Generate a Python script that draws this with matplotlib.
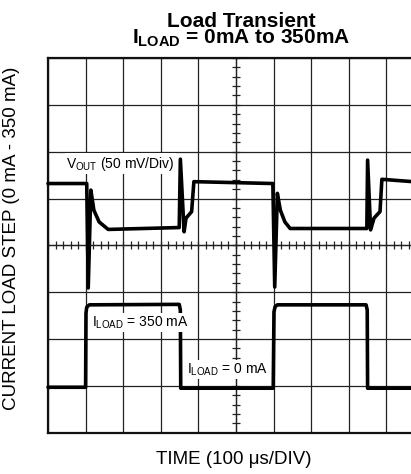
import matplotlib
matplotlib.use("Agg")
import matplotlib.pyplot as plt
import numpy as np

plt.rcParams['font.family'] = ['Liberation Sans', 'DejaVu Sans']
plt.rcParams['mathtext.fontset'] = 'custom'
plt.rcParams['mathtext.rm'] = 'Liberation Sans'
plt.rcParams['mathtext.bf'] = 'Liberation Sans:bold'
plt.rcParams['mathtext.it'] = 'Liberation Sans:italic'

# ---- data (in scope divisions: x 0..10, y 0..8) ----
vout_t = [0.0, 1.03, 1.07, 1.14, 1.22, 1.36, 1.60, 3.49, 3.52, 3.62, 3.67, 3.82, 3.88,
          5.98, 6.03, 6.10, 6.18, 6.30, 6.44, 8.48, 8.50, 8.58, 8.67, 8.83, 8.88, 9.70]
vout_v = [5.32, 5.32, 3.09, 5.18, 4.75, 4.50, 4.34, 4.38, 5.84, 4.29, 4.58, 4.72, 5.36,
          5.32, 3.11, 5.11, 4.75, 4.50, 4.36, 4.36, 5.82, 4.33, 4.58, 4.72, 5.41, 5.36]

iload_t = [0.0, 1.00, 1.01, 1.03, 1.10, 3.49, 3.52, 3.53, 5.99, 6.01, 6.04, 6.10,
           8.46, 8.49, 8.50, 9.70]
iload_v = [0.97, 0.97, 2.55, 2.68, 2.73, 2.74, 2.62, 0.95, 0.95, 2.58, 2.69, 2.73,
           2.73, 2.62, 0.95, 0.95]

title_1 = "Load Transient"
title_2 = r"I$_{\mathbf{LOAD}}$ = 0mA to 350mA"
xlabel = "TIME (100 μs/DIV)"
ylabel = "CURRENT LOAD STEP (0 mA - 350 mA)"
lbl_vout = r"V$_{\mathrm{OUT}}$ (50 mV/Div)"
lbl_i350 = r"I$_{\mathrm{LOAD}}$ = 350 mA"
lbl_i0 = r"I$_{\mathrm{LOAD}}$ = 0 mA"

W, H = 411, 474
fig = plt.figure(figsize=(W / 100, H / 100), dpi=100)
ax = fig.add_axes([48 / W, (H - 432.7) / H, 376 / W, 374.7 / H])
ax.set_xlim(0, 10)
ax.set_ylim(0, 8)

# graticule
ax.set_xticks(np.arange(0, 11))
ax.set_yticks(np.arange(0, 9))
ax.tick_params(length=0, labelbottom=False, labelleft=False)
ax.grid(True, color='#222222', linewidth=0.9)
ax.set_axisbelow(True)
for s in ax.spines.values():
    s.set_linewidth(1.6)
    s.set_color('#111111')

# center axes with minor ticks
ax.axhline(4, color='#222222', lw=0.9, zorder=1)
ax.axvline(5, color='#222222', lw=0.9, zorder=1)
mt = np.arange(0, 10.01, 0.2)
ax.plot(mt, np.full_like(mt, 4.0), ls='none', marker='|', ms=6, mew=0.9, color='#222222', zorder=1)
mt2 = np.arange(0, 8.01, 0.2)
ax.plot(np.full_like(mt2, 5.0), mt2, ls='none', marker='_', ms=6, mew=0.9, color='#222222', zorder=1)

# traces
ax.plot(vout_t, vout_v, color='black', lw=2.6, solid_joinstyle='round', solid_capstyle='round', zorder=3, clip_on=False)
ax.plot(iload_t, iload_v, color='black', lw=2.6, solid_joinstyle='round', solid_capstyle='round', zorder=3, clip_on=False)

bb = dict(facecolor='white', edgecolor='none', pad=1.0)
ax.text(0.48, 5.74, lbl_vout, fontsize=10, va='center', ha='left', bbox=bb, zorder=4)
ax.text(1.16, 2.35, lbl_i350, fontsize=10, va='center', ha='left', bbox=bb, zorder=4)
ax.text(3.69, 1.35, lbl_i0, fontsize=10, va='center', ha='left', bbox=bb, zorder=4)

# titles and labels
fig.text(241 / W, 1 - 12 / H, title_1 + "\n" + title_2, fontsize=15, fontweight='bold',
         ha='center', va='top', multialignment='center', linespacing=0.8)
fig.text(234 / W, 1 - 460 / H, xlabel, fontsize=13.5, ha='center', va='center')
fig.text(12 / W, 1 - 238 / H, ylabel, fontsize=13.5, ha='center', va='center', rotation=90)

fig.savefig('out.png', dpi=100)
